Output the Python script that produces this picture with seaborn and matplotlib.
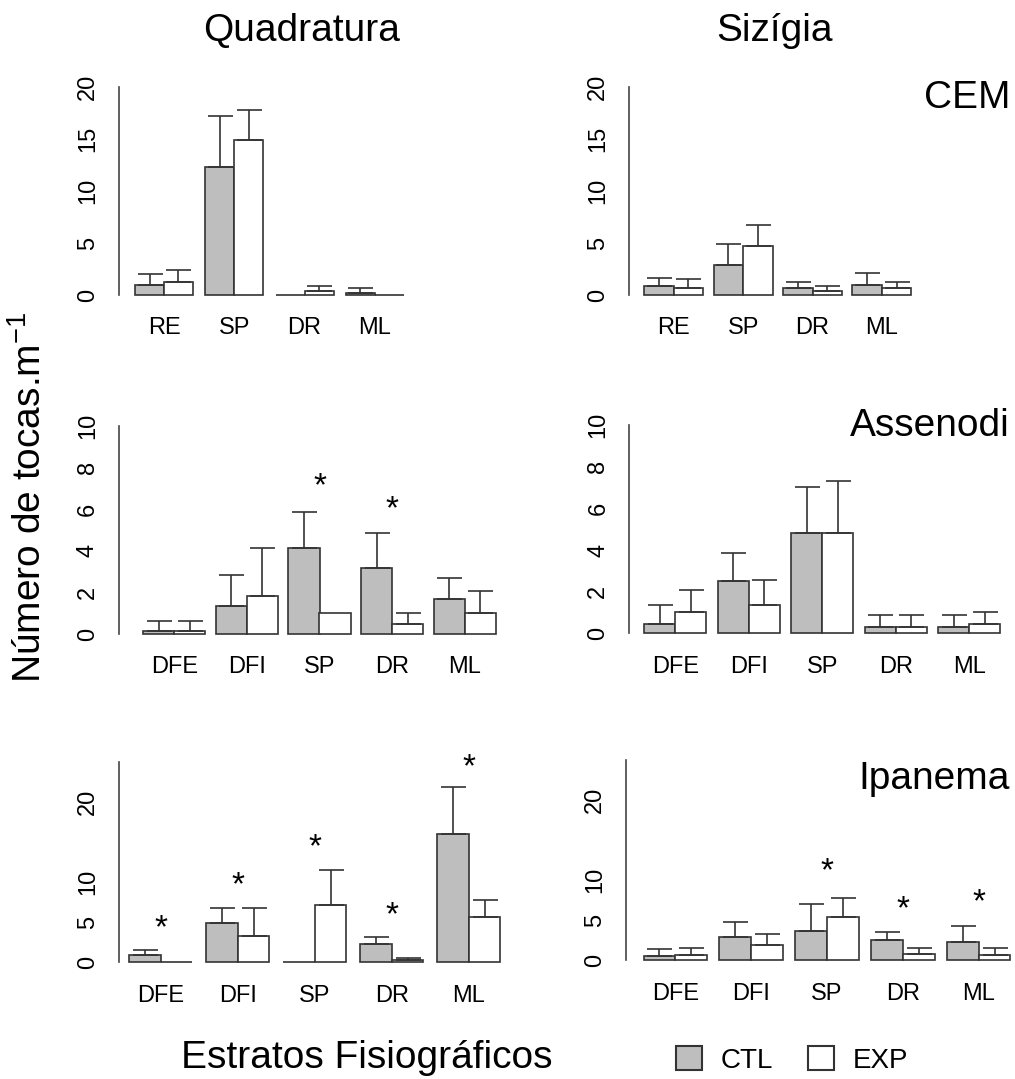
import matplotlib
matplotlib.use("Agg")
import matplotlib.pyplot as plt
from matplotlib.patches import Patch
import pandas as pd
import seaborn as sns

# ---------------- dados ----------------
estratos_cem = ["RE", "SP", "DR", "ML"]
estratos_praia = ["DFE", "DFI", "SP", "DR", "ML"]
tratamentos = ["CTL", "EXP"]

# CEM - quadratura
cem_quad_ctl = [1.0, 12.3, 0.0, 0.22]
cem_quad_ctl_dp = [1.0, 4.95, 0.0, 0.45]
cem_quad_exp = [1.25, 14.9, 0.38, 0.0]
cem_quad_exp_dp = [1.2, 2.85, 0.52, 0.0]

# CEM - sizígia
cem_siz_ctl = [0.89, 2.84, 0.64, 0.99]
cem_siz_ctl_dp = [0.77, 2.02, 0.61, 1.11]
cem_siz_exp = [0.70, 4.73, 0.38, 0.70]
cem_siz_exp_dp = [0.83, 1.98, 0.52, 0.55]

# Assenodi - quadratura
ass_quad_ctl = [0.16, 1.36, 4.15, 3.17, 1.70]
ass_quad_ctl_dp = [0.45, 1.49, 1.72, 1.70, 0.98]
ass_quad_exp = [0.16, 1.84, 1.03, 0.46, 1.03]
ass_quad_exp_dp = [0.45, 2.31, 0.0, 0.57, 1.04]
ass_quad_sig = {"SP": 7.55, "DR": 6.45}

# Assenodi - sizígia
ass_siz_ctl = [0.46, 2.50, 4.81, 0.30, 0.30]
ass_siz_ctl_dp = [0.89, 1.38, 2.21, 0.57, 0.57]
ass_siz_exp = [1.03, 1.35, 4.81, 0.30, 0.46]
ass_siz_exp_dp = [1.04, 1.21, 2.50, 0.57, 0.58]

# Ipanema - quadratura
ipa_quad_ctl = [0.88, 4.88, 0.0, 2.29, 16.1]
ipa_quad_ctl_dp = [0.71, 1.96, 0.0, 0.83, 5.8]
ipa_quad_exp = [0.0, 3.29, 7.17, 0.33, 5.71]
ipa_quad_exp_dp = [0.0, 3.54, 4.41, 0.25, 2.04]
ipa_quad_sig = {"DFE": 5.5, "DFI": 10.8, "SP": 15.6, "DR": 7.1, "ML": 25.6}

# Ipanema - sizígia
ipa_siz_ctl = [0.54, 2.96, 3.67, 2.55, 2.25]
ipa_siz_ctl_dp = [0.88, 1.88, 3.43, 1.00, 2.01]
ipa_siz_exp = [0.71, 1.96, 5.39, 0.84, 0.71]
ipa_siz_exp_dp = [0.83, 1.34, 2.46, 0.70, 0.83]
ipa_siz_sig = {"SP": 12.4, "DR": 7.6, "ML": 8.5}

ticks_cem = [0, 5, 10, 15, 20]
rot_cem = ["0", "5", "10", "15", "20"]
ticks_ass = [0, 2, 4, 6, 8, 10]
rot_ass = ["0", "2", "4", "6", "8", "10"]
ticks_ipa = [0, 5, 10, 15, 20, 25]
rot_ipa = ["0", "5", "10", "", "20", ""]

# ---------------- estilo ----------------
sns.set_style("white")
plt.rcParams["font.family"] = ["Liberation Sans", "DejaVu Sans"]
plt.rcParams["mathtext.fontset"] = "custom"
plt.rcParams["mathtext.rm"] = "Liberation Sans"
plt.rcParams["mathtext.default"] = "regular"
plt.rcParams["text.color"] = "black"
plt.rcParams["axes.labelcolor"] = "black"
plt.rcParams["xtick.color"] = "black"
plt.rcParams["ytick.color"] = "black"

CINZA = "#bebebe"
BORDA = "#333333"
EIXO = "#444444"
cores = {"CTL": CINZA, "EXP": "white"}

W, H = 1015, 1079
fig = plt.figure(figsize=(W / 100, H / 100), dpi=100)


def painel(esq, c0, passo, y0, ytop, topo, largura, estratos,
           ctl, ctl_dp, exp, exp_dp, ticks, rotulos, sig=None):
    """Desenha um painel de barras agrupadas CTL/EXP com desvio superior."""
    dir_ = W - 2
    ax = fig.add_axes([esq / W, 1 - y0 / H, (dir_ - esq) / W, (y0 - ytop) / H])
    n = len(estratos)
    df = pd.DataFrame({
        "estrato": estratos * 2,
        "trat": ["CTL"] * n + ["EXP"] * n,
        "valor": ctl + exp,
    })
    sns.barplot(data=df, x="estrato", y="valor", hue="trat", order=estratos,
                hue_order=tratamentos, palette=cores, saturation=1,
                width=largura, gap=0, errorbar=None, edgecolor=BORDA,
                linewidth=1.2, legend=False, ax=ax)
    for cont, dps in zip(ax.containers, [ctl_dp, exp_dp]):
        for barra, dp in zip(cont, dps):
            barra.set_clip_on(False)
            if dp > 0:
                ax.errorbar(barra.get_x() + barra.get_width() / 2,
                            barra.get_height(), yerr=[[0], [dp]],
                            fmt="none", ecolor=BORDA, elinewidth=1.2,
                            capsize=9, capthick=1.2, clip_on=False)
    if sig:
        for est, y in sig.items():
            ax.annotate("*", xy=(estratos.index(est), y), xytext=(0, -13.5),
                        textcoords="offset points", ha="center",
                        va="baseline", fontsize=24, color="black",
                        annotation_clip=False)
    ax.set_ylim(0, topo)
    ax.set_xlim((esq - c0) / passo, (dir_ - c0) / passo)
    ax.set_xlabel("")
    ax.set_ylabel("")
    for s in ["top", "right", "bottom"]:
        ax.spines[s].set_visible(False)
    ax.spines["left"].set_color(EIXO)
    ax.spines["left"].set_linewidth(1.2)
    ax.set_yticks(ticks)
    ax.set_yticklabels(rotulos, rotation=90, va="center")
    ax.tick_params(axis="y", length=7.2, width=1.2, color=EIXO,
                   labelsize=17, pad=7, labelcolor="black")
    ax.tick_params(axis="x", length=0, labelsize=17, pad=16,
                   labelcolor="black")
    ax.set_facecolor("none")
    return ax


painel(118.7, 164.0, 70.3, 295.0, 87.0, 20, 0.825, estratos_cem,
       cem_quad_ctl, cem_quad_ctl_dp, cem_quad_exp, cem_quad_exp_dp,
       ticks_cem, rot_cem)
painel(629.0, 673.7, 69.4, 295.0, 87.0, 20, 0.85, estratos_cem,
       cem_siz_ctl, cem_siz_ctl_dp, cem_siz_exp, cem_siz_exp_dp,
       ticks_cem, rot_cem)
painel(118.7, 174.3, 72.6, 634.0, 426.0, 10, 0.854, estratos_praia,
       ass_quad_ctl, ass_quad_ctl_dp, ass_quad_exp, ass_quad_exp_dp,
       ticks_ass, rot_ass, ass_quad_sig)
painel(629.0, 675.3, 73.5, 633.3, 425.3, 10, 0.843, estratos_praia,
       ass_siz_ctl, ass_siz_ctl_dp, ass_siz_exp, ass_siz_exp_dp,
       ticks_ass, rot_ass)
painel(118.7, 160.7, 77.0, 962.3, 762.3, 25, 0.823, estratos_praia,
       ipa_quad_ctl, ipa_quad_ctl_dp, ipa_quad_exp, ipa_quad_exp_dp,
       ticks_ipa, rot_ipa, ipa_quad_sig)
painel(626.0, 675.3, 75.85, 960.3, 760.3, 25, 0.836, estratos_praia,
       ipa_siz_ctl, ipa_siz_ctl_dp, ipa_siz_exp, ipa_siz_exp_dp,
       ticks_ipa, rot_ipa, ipa_siz_sig)

# títulos das colunas e nomes das praias
fig.text(301.7 / W, 1 - 31 / H, "Quadratura", ha="center", va="center", fontsize=28)
fig.text(775 / W, 1 - 31 / H, "Sizígia", ha="center", va="center", fontsize=28)
fig.text(1010 / W, 1 - 98 / H, "CEM", ha="right", va="center", fontsize=28)
fig.text(1010 / W, 1 - 426 / H, "Assenodi", ha="right", va="center", fontsize=28)
fig.text(1010 / W, 1 - 779 / H, "Ipanema", ha="right", va="center", fontsize=28)

fig.text(30 / W, 1 - 497 / H, "Número de tocas.m$^{-1}$", rotation=90,
         ha="center", va="center", fontsize=28)
fig.text(367 / W, 1 - 1058 / H, "Estratos Fisiográficos", ha="center",
         va="center", fontsize=28)

alcas = [Patch(facecolor=cores[t], edgecolor=BORDA, linewidth=1.5, label=t)
         for t in tratamentos]
fig.legend(handles=alcas, loc="center left", bbox_to_anchor=(676 / W, 1 - 1060 / H),
           ncol=2, frameon=False, fontsize=20, handlelength=0.94,
           handleheight=0.94, handletextpad=0.66, columnspacing=1.28,
           borderpad=0, borderaxespad=0)

fig.savefig("out.png", dpi=100, facecolor="white")
